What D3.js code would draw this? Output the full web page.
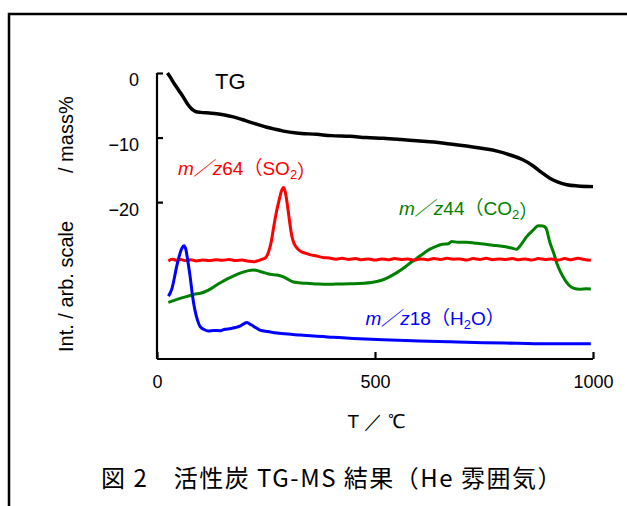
<!DOCTYPE html>
<html>
<head>
<meta charset="utf-8">
<script src="https://cdn.jsdelivr.net/npm/d3@7"></script>
<style>
  body { margin: 0; background: #fff; }
  text { font-family: "Liberation Sans", Arial, sans-serif; }
</style>
</head>
<body>
<div class="tgms-plot"></div>
<script>
// TG curve: temperature (degC) vs mass change (mass%)
const tgData = [[24,0],[30,-0.6],[40,-1.7],[50,-2.7],[60,-3.7],[70,-4.8],[80,-5.6],[90,-6.0],[100,-6.1],
  [120,-6.2],[137,-6.3],[155,-6.5],[175,-6.8],[195,-7.2],[213,-7.6],[232,-8.0],[252,-8.4],[270,-8.7],
  [290,-9.0],[320,-9.3],[366,-9.5],[400,-9.7],[443,-9.8],[480,-10.0],[519,-10.1],[560,-10.3],[596,-10.5],
  [635,-10.7],[672,-11.0],[710,-11.3],[748,-11.7],[780,-12.1],[810,-12.7],[838,-13.4],[863,-14.4],
  [882,-15.4],[901,-16.3],[920,-16.9],[940,-17.3],[965,-17.5],[1000,-17.6]];

// MS signals: temperature vs intensity (arb. scale, 0-100)
const so2Data = [[26,34.3],[35,34.9],[45,34.5],[55,34.8],[65,34.4],[78,34.7],[90,34.3],[105,34.6],
  [120,34.4],[135,34.7],[150,34.5],[165,34.8],[180,34.4],[195,34.6],[210,34.2],[222,34.0],[232,34.4],
  [242,34.9],[250,35.6],[256,37.5],[262,41],[268,46.5],[274,51.5],[280,55.5],[286,59],[290,60],
  [294,58.5],[298,55],[302,50.5],[306,46],[310,42.5],[315,40.2],[322,38.6],[330,37.6],[340,37],
  [352,36.4],[366,36],[380,35.5],[395,35.3],[410,34.9],[425,35.2],[440,34.8],[455,35.1],[470,34.7],
  [485,35],[500,34.6],[515,35],[530,34.7],[545,35.1],[560,34.8],[575,35],[590,34.6],[605,35],
  [620,34.7],[635,35.1],[650,34.8],[665,35.2],[680,34.9],[695,35],[710,34.6],[725,35.1],[740,34.8],
  [755,35.2],[770,34.7],[785,35],[800,34.8],[815,35.1],[830,34.7],[845,35],[860,34.6],[875,35.1],
  [890,34.8],[905,35],[920,34.6],[935,35.1],[950,34.7],[965,35.2],[980,34.8],[995,34.5]];

const co2Data = [[26,19.8],[40,20.5],[55,21.3],[70,21.9],[85,22.6],[100,23.0],[118,24.1],[137,25.9],
  [156,27.6],[175,29.0],[194,30.2],[210,30.9],[221,31.1],[235,30.7],[248,30.1],[260,29.6],[275,29.4],
  [290,28.7],[300,27.9],[313,26.9],[330,26.6],[350,26.4],[370,26.2],[389,26.1],[410,26.2],[443,26.3],
  [475,26.5],[504,27.1],[520,27.8],[534,28.8],[550,30.2],[565,31.7],[580,33.5],[596,35.2],[612,37.0],
  [626,38.4],[640,39.4],[655,40.1],[668,40.3],[676,41.1],[690,40.8],[710,40.8],[730,40.5],[749,40.2],
  [770,39.8],[787,39.5],[805,39.1],[815,38.7],[825,38.4],[835,40.0],[848,42.8],[862,45.0],[875,46.6],
  [885,46.5],[892,45.8],[901,40.8],[910,37.0],[917,33.5],[926,30.3],[936,27.6],[945,25.8],[955,24.8],
  [970,24.4],[985,24.6],[995,24.5]];

const h2oData = [[26,22],[30,23],[34,24.5],[40,28.5],[45,32.3],[51,36],[57,38.7],[62,39.6],[66,38.4],
  [70,35],[76,28.8],[82,21.5],[87,17.1],[93,13.5],[99,11.3],[108,10.3],[118,9.8],[130,10.0],[145,9.9],
  [156,10.4],[167,10.6],[180,11.0],[190,11.5],[198,12.2],[206,12.8],[211,12.4],[217,11.9],[226,11.0],
  [236,10.1],[255,9.6],[275,9.1],[300,8.7],[328,8.4],[360,8.0],[404,7.6],[450,7.2],[519,6.7],[600,6.3],
  [672,6.0],[750,5.7],[825,5.5],[900,5.3],[960,5.3],[995,5.3]];

const xMajor = [0, 500, 1000];
const xMinor = d3.range(0, 1001, 100);
const yTicks = [0, -10, -20];

const width = 627;
const height = 506;

const svg = d3.select('.tgms-plot').append('svg')
  .attr('width', width)
  .attr('height', height);

// frame (top + left only, rest is cut off)
svg.append('path')
  .attr('d', 'M9,506 V14 H627')
  .attr('fill', 'none')
  .attr('stroke', '#000')
  .attr('stroke-width', 2.5);

const x = d3.scaleLinear().domain([0, 1000]).range([157, 593]);
const y = d3.scaleLinear().domain([0, -44.3]).range([73, 359]);
const yInt = d3.scaleLinear().domain([0, 100]).range([359, 73]);

// x axis
const gx = svg.append('g').attr('transform', 'translate(0,359)');
gx.call(d3.axisBottom(x).tickValues(xMinor).tickSize(-5).tickFormat(''));
gx.call(d3.axisBottom(x).tickValues(xMajor).tickSize(-7).tickPadding(16).tickFormat(d3.format('d')));
gx.selectAll('path, line').attr('stroke', '#000').attr('stroke-width', 2.2);
gx.select('.domain').attr('d', 'M157,0H593');
gx.selectAll('text').attr('font-size', 18).attr('fill', '#000')
  .style('font-family', '"Liberation Sans", Arial, sans-serif');

// y axis (mass %)
const gy = svg.append('g').attr('transform', 'translate(157,0)');
gy.call(d3.axisLeft(y).tickValues(yTicks).tickSize(-6).tickPadding(18));
gy.selectAll('path, line').attr('stroke', '#000').attr('stroke-width', 2.2);
gy.select('.domain').attr('d', 'M0,73V359');
gy.selectAll('text').attr('font-size', 18).attr('fill', '#000').attr('dy', '0.72em')
  .style('font-family', '"Liberation Sans", Arial, sans-serif');

// axis titles
svg.append('text')
  .attr('transform', 'translate(73,352) rotate(-90)')
  .attr('font-size', 20)
  .text('Int. / arb. scale');
svg.append('text')
  .attr('transform', 'translate(73,173) rotate(-90)')
  .attr('font-size', 20)
  .text('/ mass%');

svg.append('text')
  .attr('x', 377).attr('y', 428)
  .attr('text-anchor', 'middle')
  .attr('font-size', 19)
  .text('T \uFF0F \u2103');

// curves
const lineTG = d3.line().x(d => x(d[0])).y(d => y(d[1])).curve(d3.curveMonotoneX);
const lineMS = d3.line().x(d => x(d[0])).y(d => yInt(d[1])).curve(d3.curveMonotoneX);

svg.append('path').datum(co2Data).attr('d', lineMS)
  .attr('fill', 'none').attr('stroke', '#008000').attr('stroke-width', 3);
svg.append('path').datum(so2Data).attr('d', lineMS)
  .attr('fill', 'none').attr('stroke', '#ff0000').attr('stroke-width', 3);
svg.append('path').datum(h2oData).attr('d', lineMS)
  .attr('fill', 'none').attr('stroke', '#0000ff').attr('stroke-width', 3);
svg.append('path').datum(tgData).attr('d', lineTG)
  .attr('fill', 'none').attr('stroke', '#000').attr('stroke-width', 3.5);

// labels
svg.append('text')
  .attr('x', x(133)).attr('y', y(-2.5))
  .attr('font-size', 22)
  .text('TG');

const cjk = '"Noto Sans CJK JP", sans-serif';
function msLabel(t, v, num, mol, sub, tail, color) {
  const txt = svg.append('text')
    .attr('x', x(t)).attr('y', yInt(v))
    .attr('font-size', 19)
    .attr('fill', color);
  txt.append('tspan').attr('font-style', 'italic').text('m');
  txt.append('tspan').attr('font-style', 'italic').style('font-family', cjk).text('\uFF0F');
  txt.append('tspan').attr('font-style', 'italic').text('z');
  txt.append('tspan').text(num);
  txt.append('tspan').style('font-family', cjk).text('\uFF08');
  txt.append('tspan').text(mol);
  txt.append('tspan').attr('font-size', 13).attr('dy', 4).text(sub);
  txt.append('tspan').attr('dy', -4).text(tail);
  txt.append('tspan').style('font-family', cjk).text('\uFF09');
}
msLabel(48, 64.3, '64', 'SO', '2', '', '#ff0000');
msLabel(555, 50.3, '44', 'CO', '2', '', '#008000');
msLabel(478, 11.9, '18', 'H', '2', 'O', '#0000ff');

// caption
svg.append('text')
  .attr('x', 101).attr('y', 487)
  .attr('font-size', 24)
  .attr('letter-spacing', 1.5)
  .style('font-family', cjk)
  .text('図 2\u3000活性炭 TG-MS 結果（He 雰囲気）');
</script>
</body>
</html>
